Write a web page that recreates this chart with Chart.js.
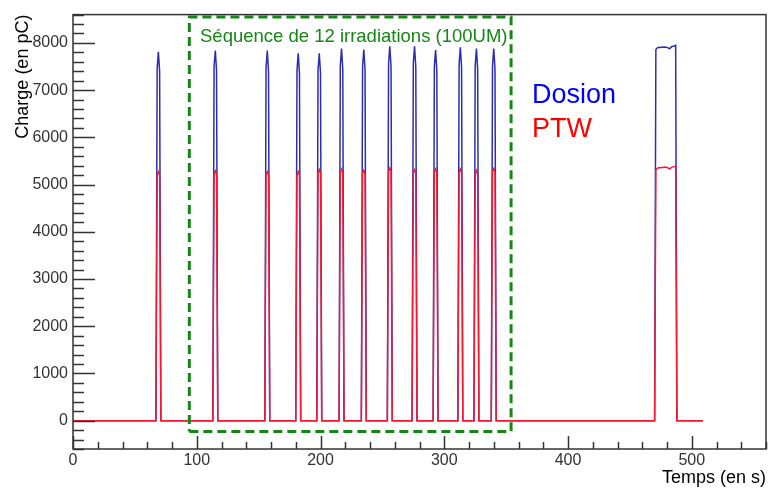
<!DOCTYPE html>
<html>
<head>
<meta charset="utf-8">
<script src="https://cdn.jsdelivr.net/npm/chart.js@4.4.1/dist/chart.umd.min.js"></script>
<style>
  body { margin: 0; background: #fff; }
  #wrap { width: 772px; height: 489px; }
</style>
</head>
<body>
<div id="wrap"><canvas id="chart"></canvas></div>
<script>
// time samples (s), one row per irradiation
const times = [
  0,
  67, 68, 69, 70, 71,
  113, 114, 115, 116, 117,
  155, 156, 157, 158, 159,
  180, 181, 182, 183, 184,
  197, 198, 199, 200, 201,
  215, 216, 217, 218, 219,
  233, 234, 235, 236, 237,
  254, 255, 256, 257, 258,
  274, 275, 276, 277, 278,
  291, 292, 293, 294, 295,
  311, 312, 313, 314, 315,
  324, 325, 326, 327, 328,
  338, 339, 340, 341, 342,
  470, 471, 472, 473, 474, 475, 476, 477, 478, 479, 480, 481, 482, 483, 484, 485, 486, 487, 488,
  509
];

// charge (pC)
const dosion = [
  0,
  0, 7450, 7810, 7400, 0,
  0, 7500, 7840, 7420, 0,
  0, 7480, 7840, 7400, 0,
  0, 7420, 7780, 7350, 0,
  0, 7430, 7780, 7360, 0,
  0, 7520, 7880, 7450, 0,
  0, 7500, 7860, 7430, 0,
  0, 7560, 7930, 7500, 0,
  0, 7570, 7930, 7490, 0,
  0, 7490, 7850, 7420, 0,
  0, 7550, 7910, 7480, 0,
  0, 7520, 7880, 7440, 0,
  0, 7510, 7880, 7450, 0,
  0, 7860, 7890, 7905, 7910, 7905, 7915, 7910, 7915, 7910, 7905, 7895, 7875, 7900, 7925, 7930, 7935, 7950, 0,
  0
];

const ptw = [
  0,
  0, 5200, 5270, 5190, 0,
  0, 5230, 5290, 5210, 0,
  0, 5210, 5270, 5200, 0,
  0, 5200, 5270, 5190, 0,
  0, 5250, 5320, 5240, 0,
  0, 5270, 5330, 5250, 0,
  0, 5240, 5300, 5220, 0,
  0, 5280, 5350, 5270, 0,
  0, 5250, 5310, 5230, 0,
  0, 5260, 5330, 5250, 0,
  0, 5270, 5330, 5250, 0,
  0, 5230, 5300, 5220, 0,
  0, 5280, 5340, 5260, 0,
  0, 5310, 5340, 5355, 5360, 5355, 5365, 5360, 5370, 5365, 5360, 5350, 5335, 5350, 5370, 5375, 5380, 5390, 0,
  0
];

// dashed frame around the sequence
const boxX = [94, 354, 354, 94, 94];
const boxY = [-230, -230, 8550, 8550, -230];

const xTickValues = [0, 100, 200, 300, 400, 500];
const yTickValues = [0, 1000, 2000, 3000, 4000, 5000, 6000, 7000, 8000];

const boxLabel = 'Séquence de 12 irradiations (100UM)';
const legendNames = ['Dosion', 'PTW'];

const FONT = "'Liberation Sans', Arial, sans-serif";
const BLUE = 'rgb(45,45,175)';
const RED = 'rgb(245,25,50)';
const GREEN = 'rgb(20,135,20)';

const toPoints = (xs, ys) => xs.map((x, i) => ({ x: x, y: ys[i] }));

// ROOT style frame with inward ticks, plus the texts
const frameTicks = {
  id: 'frameTicks',
  afterDatasetsDraw(chart) {
    const { ctx, chartArea: a, scales } = chart;
    const x = scales.x, y = scales.y;
    ctx.save();
    ctx.strokeStyle = '#333';
    ctx.lineWidth = 1.5;
    ctx.strokeRect(a.left, a.top, a.right - a.left, a.bottom - a.top);

    ctx.beginPath();
    for (let v = x.min; v <= x.max; v += 20) {
      const px = Math.round(x.getPixelForValue(v)) + 0.5;
      const len = v % 100 === 0 ? 13 : 7;
      ctx.moveTo(px, a.bottom);
      ctx.lineTo(px, a.bottom - len);
    }
    for (let v = y.min; v <= y.max; v += 200) {
      const py = Math.round(y.getPixelForValue(v)) + 0.5;
      const len = v % 1000 === 0 ? 22 : 11;
      ctx.moveTo(a.left, py);
      ctx.lineTo(a.left + len, py);
    }
    ctx.stroke();

    ctx.textBaseline = 'alphabetic';
    ctx.textAlign = 'left';
    ctx.fillStyle = GREEN;
    ctx.font = '18.5px ' + FONT;
    ctx.fillText(boxLabel, 200, 42);

    ctx.font = '27px ' + FONT;
    ctx.fillStyle = 'rgb(0,0,255)';
    ctx.fillText(legendNames[0], 532, 103);
    ctx.fillStyle = 'rgb(255,0,0)';
    ctx.fillText(legendNames[1], 532, 137);
    ctx.restore();
  }
};

new Chart(document.getElementById('chart'), {
  type: 'line',
  data: {
    datasets: [
      {
        label: 'box',
        data: toPoints(boxX, boxY),
        borderColor: GREEN,
        borderWidth: 3,
        borderDash: [9, 5],
        pointRadius: 0,
        order: -1
      },
      {
        label: legendNames[1],
        data: toPoints(times, ptw),
        borderColor: RED,
        borderWidth: 1.5,
        pointRadius: 0,
        order: 0
      },
      {
        label: legendNames[0],
        data: toPoints(times, dosion),
        borderColor: BLUE,
        borderWidth: 1.5,
        pointRadius: 0,
        order: 1
      }
    ]
  },
  options: {
    responsive: true,
    maintainAspectRatio: false,
    animation: false,
    layout: { padding: { top: 13, right: 6, left: 0, bottom: 0 } },
    elements: { line: { tension: 0 } },
    plugins: {
      legend: { display: false },
      tooltip: { enabled: false }
    },
    scales: {
      x: {
        type: 'linear',
        min: 0,
        max: 560,
        afterBuildTicks: s => { s.ticks = xTickValues.map(v => ({ value: v })); },
        afterFit: s => { s.height = 40; },
        grid: { display: false, drawTicks: false },
        border: { display: false },
        ticks: {
          padding: 2,
          color: '#333',
          font: { family: FONT, size: 16 },
          maxRotation: 0,
          callback: v => String(v)
        },
        title: {
          display: true,
          text: 'Temps (en s)',
          align: 'end',
          color: '#000',
          font: { family: FONT, size: 18 },
          padding: 0
        }
      },
      y: {
        min: -600,
        max: 8600,
        afterBuildTicks: s => { s.ticks = yTickValues.map(v => ({ value: v })); },
        afterFit: s => { s.width = 73; },
        grid: { display: false, drawTicks: false },
        border: { display: false },
        ticks: {
          padding: 5,
          color: '#333',
          font: { family: FONT, size: 16 },
          callback: v => String(v)
        },
        title: {
          display: true,
          text: 'Charge (en pC)',
          align: 'end',
          color: '#000',
          font: { family: FONT, size: 18 },
          padding: { top: 12, bottom: 0 }
        }
      }
    }
  },
  plugins: [frameTicks]
});
</script>
</body>
</html>
